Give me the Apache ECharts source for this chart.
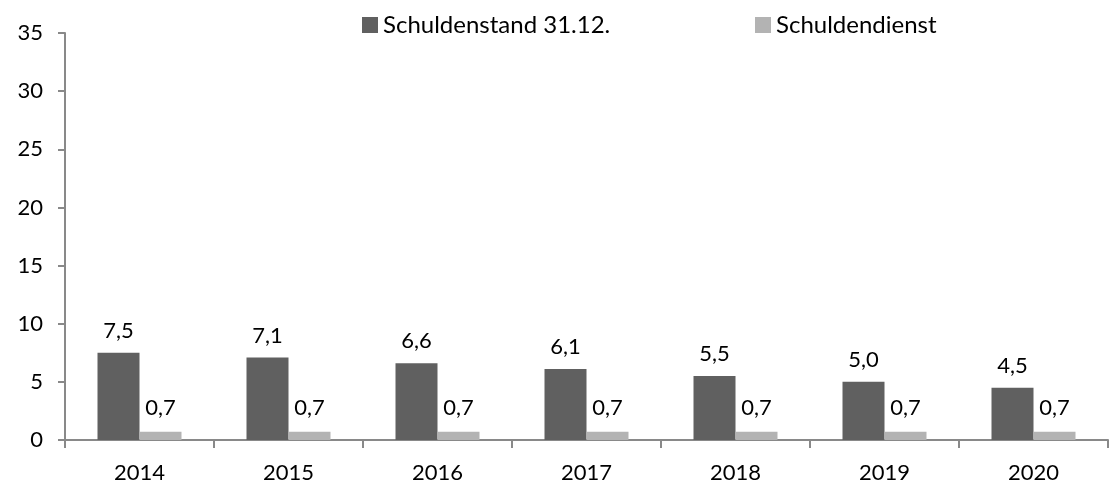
<!DOCTYPE html>
<html>
<head>
<meta charset="utf-8">
<script src="https://cdn.jsdelivr.net/npm/echarts@6/dist/echarts.min.js"></script>
<style>
html, body { margin: 0; padding: 0; background: #fff; }
#container { width: 1109px; height: 485px; }
</style>
</head>
<body>
<div id="container"></div>
<script>
var years = ['2014', '2015', '2016', '2017', '2018', '2019', '2020'];
var schuldenstand = [7.5, 7.1, 6.6, 6.1, 5.5, 5.0, 4.5];
var schuldendienst = [0.7, 0.7, 0.7, 0.7, 0.7, 0.7, 0.7];
var seriesNames = ['Schuldenstand 31.12.', 'Schuldendienst'];

var font = 'Lato, "Open Sans", sans-serif';
var myChart = echarts.init(document.getElementById('container'));

// Komma als Dezimaltrenner
function fmt(p) {
	return p.value.toFixed(1).replace('.', ',');
}

var legendText = { fontSize: 24, color: '#000', fontFamily: font };

var option = {
	animation: false,
	textStyle: { fontFamily: font },
	legend: [{
		data: [seriesNames[0]],
		left: 362,
		top: 13,
		padding: 0,
		icon: 'rect',
		itemWidth: 16,
		itemHeight: 16,
		textStyle: legendText
	}, {
		data: [seriesNames[1]],
		left: 755,
		top: 13,
		padding: 0,
		icon: 'rect',
		itemWidth: 16,
		itemHeight: 16,
		textStyle: legendText
	}],
	grid: { left: 65, right: 1, top: 33, bottom: 45 },
	xAxis: {
		type: 'category',
		data: years,
		axisLine: { lineStyle: { color: '#898989', width: 2 } },
		axisTick: { show: true, length: 8, lineStyle: { color: '#898989', width: 2 } },
		axisLabel: { fontSize: 22, color: '#000', margin: 22, fontFamily: font }
	},
	yAxis: {
		type: 'value',
		min: 0,
		max: 35,
		interval: 5,
		axisLine: { show: true, lineStyle: { color: '#898989', width: 2 } },
		axisTick: { show: true, length: 7, lineStyle: { color: '#898989', width: 2 } },
		splitLine: { show: false },
		axisLabel: { fontSize: 22, color: '#000', margin: 22, fontFamily: font }
	},
	series: [{
		name: seriesNames[0],
		type: 'bar',
		data: schuldenstand,
		barWidth: 42,
		barGap: '0%',
		itemStyle: { color: '#606060' },
		label: { show: true, position: 'top', distance: 11, formatter: fmt, fontSize: 22, color: '#000', fontFamily: font }
	}, {
		name: seriesNames[1],
		type: 'bar',
		data: schuldendienst,
		barWidth: 42,
		barGap: '0%',
		itemStyle: { color: '#b3b3b3' },
		label: { show: true, position: 'top', distance: 13, formatter: fmt, fontSize: 22, color: '#000', fontFamily: font }
	}]
};

myChart.setOption(option, true);
</script>
</body>
</html>
